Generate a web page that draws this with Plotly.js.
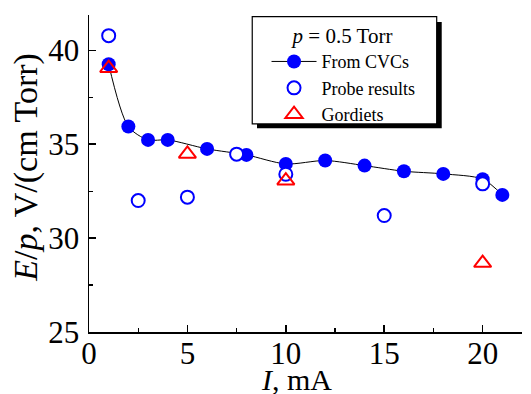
<!DOCTYPE html>
<html><head><meta charset="utf-8">
<script src="https://cdn.plot.ly/plotly-3.0.1.min.js"></script>
<style>html,body{margin:0;padding:0;background:#fff}#chart{width:531px;height:394px}</style>
</head><body><div id="chart"></div>
<script>
const cvcX = [1, 2, 3, 4, 6, 8, 10, 12, 14, 16, 18, 20, 21];
const cvcY = [39.26, 35.94, 35.23, 35.23, 34.75, 34.43, 33.95, 34.13, 33.86, 33.56, 33.42, 33.14, 32.30];
const probeX = [1, 2.5, 5, 7.5, 10, 15, 20];
const probeY = [40.78, 32.0, 32.18, 34.47, 33.4, 31.2, 32.89];
const gordX = [1, 5, 10, 20];
const gordY = [39.05, 34.48, 33.06, 28.67];
const legendTitle = "<i>p</i> = 0.5 Torr";
const names = ["From CVCs", "Probe results", "Gordiets"];
const xTitle = "<i>I</i>, mA";
const yTitle = "<i>E</i>/<i>p</i>, V/(cm Torr)";

const font = "'Liberation Serif', 'Times New Roman', serif";
const traces = [
  {x: cvcX, y: cvcY, name: names[0], mode: "lines+markers", type: "scatter",
   line: {color: "#000", width: 1, shape: "spline", smoothing: 0.8},
   marker: {color: "#0000ff", size: 14, symbol: "circle"}},
  {x: probeX, y: probeY, name: names[1], mode: "markers", type: "scatter",
   marker: {color: "#fff", size: 13, symbol: "circle", line: {color: "#0000ff", width: 2}}},
  {x: gordX, y: gordY, name: names[2], mode: "markers", type: "scatter",
   marker: {color: "rgba(255,255,255,0)", size: 15, symbol: "triangle-up", line: {color: "#ff0000", width: 2}}}
];
const axisCommon = {
  showgrid: false, zeroline: false, showline: true, linecolor: "#000", linewidth: 1.5,
  ticks: "inside", ticklen: 7, tickwidth: 1.5, tickcolor: "#000",
  tickfont: {family: font, size: 31, color: "#000"},
  minor: {ticks: "inside", ticklen: 4, tickwidth: 1.2, tickcolor: "#000", dtick: 2.5}
};
const layout = {
  width: 531, height: 394,
  margin: {l: 89, r: 9, t: 15, b: 62},
  paper_bgcolor: "#fff", plot_bgcolor: "#fff",
  showlegend: true,
  font: {family: font, color: "#000"},
  xaxis: Object.assign({}, axisCommon, {range: [0, 22], dtick: 5, tick0: 0, ticklabelstandoff: -7}),
  yaxis: Object.assign({}, axisCommon, {range: [25, 41.88], dtick: 5, tick0: 25, ticklabelstandoff: 2}),
  annotations: [
    {text: xTitle, xref: "paper", yref: "paper", x: 0.48, y: -0.149, xanchor: "center", yanchor: "middle",
     showarrow: false, font: {family: font, size: 30, color: "#000"}},
    {text: yTitle, xref: "paper", yref: "paper", x: -0.1455, y: 0.521, xanchor: "center", yanchor: "middle",
     textangle: -90, showarrow: false, font: {family: font, size: 34, color: "#000"}}
  ],
  legend: {
    x: 0.41, y: 0.997, xanchor: "left", yanchor: "top",
    bgcolor: "rgba(0,0,0,0)", borderwidth: 0,
    font: {family: font, size: 18, color: "#000"},
    title: {text: legendTitle, side: "top center", font: {family: font, size: 21, color: "#000"}},
    tracegroupgap: 0, itemsizing: "trace", itemwidth: 45
  },
  shapes: [
    {type: "rect", xref: "paper", yref: "paper", layer: "below",
     x0: 0.388, x1: 0.8146, y0: 0.643, y1: 0.978,
     fillcolor: "#000", line: {width: 0}},
    {type: "rect", xref: "paper", yref: "paper", layer: "below",
     x0: 0.377, x1: 0.803, y0: 0.6565, y1: 0.9946,
     fillcolor: "#fff", line: {color: "#000", width: 1.2}}
  ]
};
Plotly.newPlot("chart", traces, layout, {displayModeBar: false, staticPlot: true});
</script>
</body></html>
